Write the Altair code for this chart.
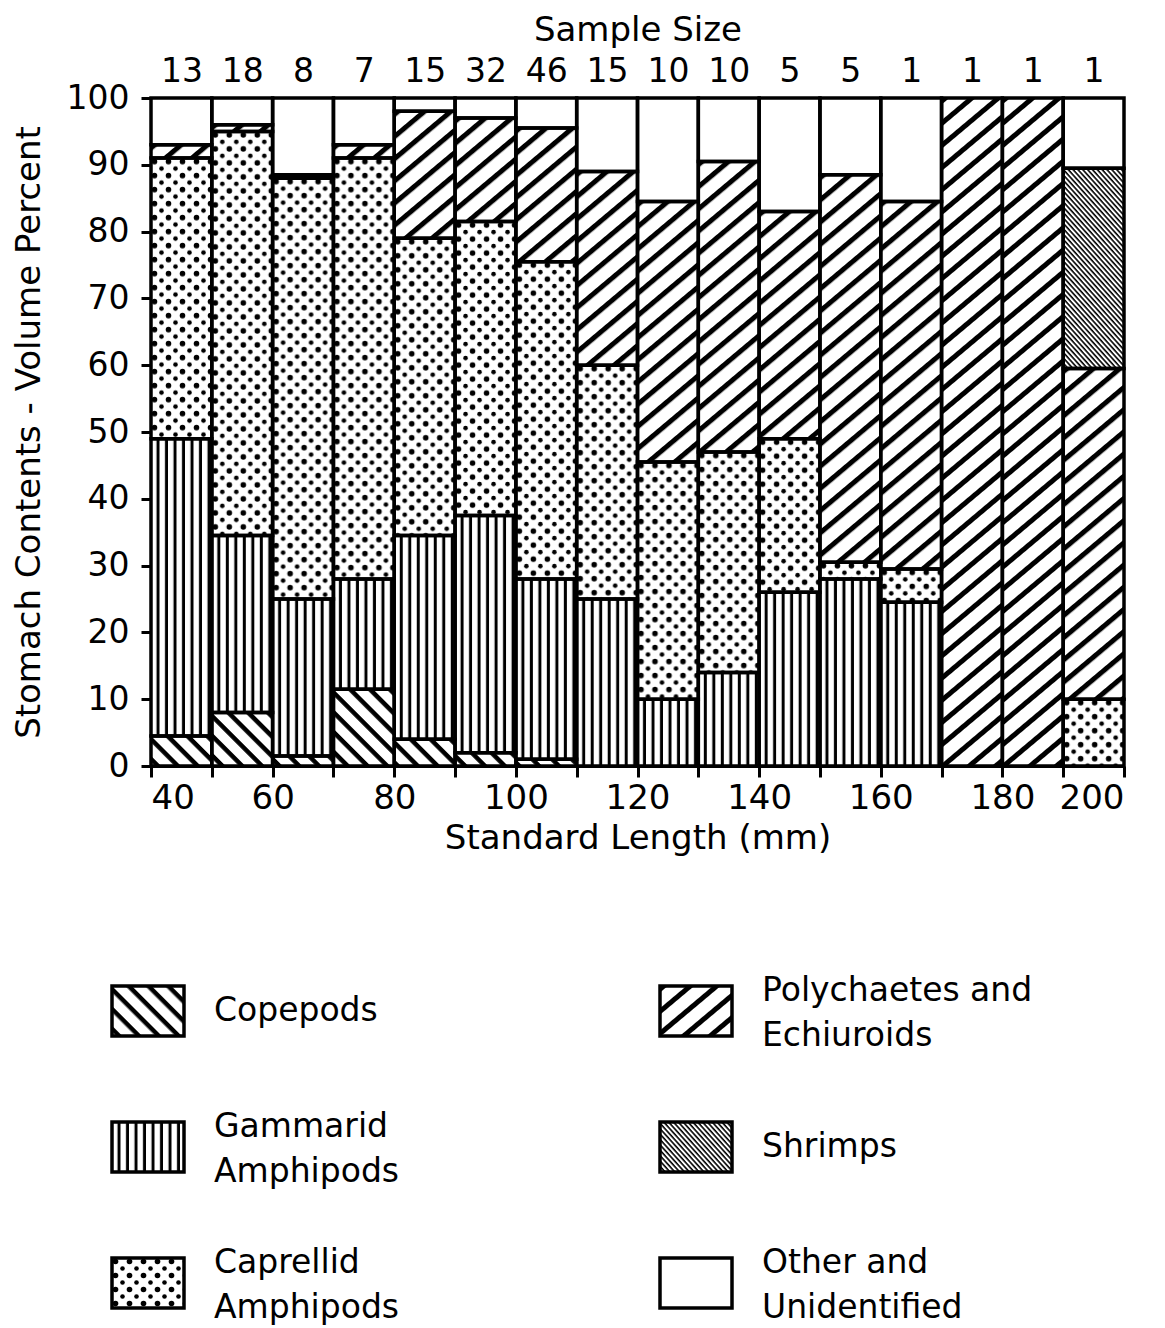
import base64

import altair as alt
import pandas as pd

# Standard-length size classes (mm) and number of stomachs examined in each
length_lower = [40, 50, 60, 70, 80, 90, 100, 110, 120, 130, 140, 150, 160, 170, 180, 190]
length_upper = [50, 60, 70, 80, 90, 100, 110, 120, 130, 140, 150, 160, 170, 180, 190, 200]
sample_size = [13, 18, 8, 7, 15, 32, 46, 15, 10, 10, 5, 5, 1, 1, 1, 1]

# Stomach contents, volume percent per prey group (stacked bottom to top)
copepods = [4.5, 8.0, 1.5, 11.5, 4.0, 2.0, 1.0, 0, 0, 0, 0, 0, 0, 0, 0, 0]
gammarid = [44.5, 26.5, 23.5, 16.5, 30.5, 35.5, 27.0, 25.0, 10.0, 14.0, 26.0, 28.0, 24.5, 0, 0, 0]
caprellid = [42.0, 60.5, 63.0, 63.0, 44.5, 44.0, 47.5, 35.0, 35.5, 33.0, 23.0, 2.5, 5.0, 0, 0, 10.0]
polychaetes = [2.0, 1.0, 0.5, 2.0, 19.0, 15.5, 20.0, 29.0, 39.0, 43.5, 34.0, 58.0, 55.0, 100, 100, 49.5]
shrimps = [0, 0, 0, 0, 0, 0, 0, 0, 0, 0, 0, 0, 0, 0, 0, 30.0]
other = [7.0, 4.0, 11.5, 7.0, 2.0, 3.0, 4.5, 11.0, 15.5, 9.5, 17.0, 11.5, 15.5, 0, 0, 10.5]

prey_groups = [
    "Copepods",
    "Gammarid Amphipods",
    "Caprellid Amphipods",
    "Polychaetes and Echiuroids",
    "Shrimps",
    "Other and Unidentified",
]
legend_labels = [
    "Copepods",
    "Gammarid\nAmphipods",
    "Caprellid\nAmphipods",
    "Polychaetes and\nEchiuroids",
    "Shrimps",
    "Other and\nUnidentified",
]
legend_col = [0, 0, 0, 1, 1, 1]
legend_row = [0, 1, 2, 0, 1, 2]

FONT = "DejaVu Sans"


# ---- hatch fills: small SVG tiles used as image marks -------------------
def stripes(period, thickness, angle):
    return (
        f'<pattern id="p" patternUnits="userSpaceOnUse" width="10" height="{period}" '
        f'patternTransform="rotate({angle})">'
        f'<rect width="10" height="{thickness}" fill="#000"/></pattern>'
    )


def dots():
    return (
        '<pattern id="p" patternUnits="userSpaceOnUse" width="14" height="14">'
        '<circle cx="3.5" cy="3.5" r="2.8" fill="#000"/>'
        '<circle cx="10.5" cy="10.5" r="2.3" fill="#000"/></pattern>'
    )


def tile_uri(pattern):
    body = '<rect width="100%" height="100%" fill="#fff"/>'
    if pattern:
        body += '<rect width="100%" height="100%" fill="url(#p)"/>'
    svg = (
        '<svg xmlns="http://www.w3.org/2000/svg" width="100%" height="100%">'
        f"<defs>{pattern}</defs>{body}</svg>"
    )
    return "data:image/svg+xml;base64," + base64.b64encode(svg.encode()).decode()


fills = pd.DataFrame(
    {
        "group": prey_groups,
        "pattern": [
            tile_uri(stripes(14, 4.5, 45)),
            tile_uri(stripes(8.5, 3, 90)),
            tile_uri(dots()),
            tile_uri(stripes(17, 5, -40)),
            tile_uri(stripes(3.6, 1.6, 48)),
            tile_uri(""),
        ],
    }
)

# ---- long table for the stacked columns --------------------------------
series = [copepods, gammarid, caprellid, polychaetes, shrimps, other]
records = []
for order, (group, values) in enumerate(zip(prey_groups, series)):
    for lo, hi, v in zip(length_lower, length_upper, values):
        records.append({"group": group, "order": order, "lower": lo, "upper": hi, "percent": v})
stomach = pd.DataFrame(records)

x_scale = alt.Scale(domain=[length_lower[0], length_upper[-1]], nice=False, zero=False)
y_scale = alt.Scale(domain=[0, 100], nice=False)

centers = [(lo + hi) / 2 for lo, hi in zip(length_lower, length_upper)]
size_labels = "[" + ",".join(f"'{n}'" for n in sample_size) + "]"
top_label_expr = f"{size_labels}[round((datum.value - {centers[0]}) / {length_upper[0] - length_lower[0]})]"

x_bottom = alt.X(
    "lower:Q",
    scale=x_scale,
    axis=alt.Axis(
        values=list(range(40, 201, 10)),
        labelExpr="datum.value % 20 == 0 ? datum.label : ''",
        labelOverlap=False,
        grid=False,
        tickSize=11,
        tickWidth=3,
        domainWidth=3,
        labelFontSize=34,
        labelPadding=4,
        title="Standard Length (mm)",
        titleFontSize=34,
        titleFontWeight="normal",
        titlePadding=6,
    ),
)
x_top = alt.X(
    "lower:Q",
    scale=x_scale,
    axis=alt.Axis(
        orient="top",
        values=centers,
        labelExpr=top_label_expr,
        labelOverlap=False,
        grid=False,
        ticks=False,
        domain=False,
        labelFontSize=33,
        labelPadding=10,
        title="Sample Size",
        titleFontSize=34,
        titleFontWeight="normal",
        titlePadding=8,
    ),
)
y_axis = alt.Axis(
    values=list(range(0, 101, 10)),
    grid=False,
    tickSize=10,
    tickWidth=3,
    domainWidth=3,
    labelFontSize=33,
    labelPadding=12,
    title="Stomach Contents - Volume Percent",
    titleFontSize=34,
    titleFontWeight="normal",
    titlePadding=20,
)
y_enc = alt.Y("bottom:Q", scale=y_scale, axis=y_axis)

base = (
    alt.Chart(stomach)
    .transform_lookup(lookup="group", from_=alt.LookupData(fills, "group", ["pattern"]))
    .transform_stack(
        stack="percent",
        groupby=["lower"],
        as_=["bottom", "top"],
        sort=[alt.SortField("order", order="ascending")],
    )
    .transform_filter("datum.percent > 0")
)

hatch = base.mark_image(aspect=False).encode(
    x=x_bottom, x2="upper:Q", y=y_enc, y2="top:Q", url="pattern:N"
)
outline = base.mark_rect(fillOpacity=0, stroke="black", strokeWidth=3.5).encode(
    x=x_top, x2="upper:Q", y=y_enc, y2="top:Q"
)

main = alt.layer(hatch, outline).resolve_axis(x="independent").properties(width=973, height=668)

# ---- key below the chart -----------------------------------------------
key_df = pd.DataFrame({"group": prey_groups, "label": legend_labels, "col": legend_col, "row": legend_row})
key_df["first_line"] = key_df["label"].str.split("\n").str[0]
key_df["second_line"] = key_df["label"].str.split("\n").str[1].fillna("")

key_base = alt.Chart(key_df).transform_lookup(
    lookup="group", from_=alt.LookupData(fills, "group", ["pattern"])
)
kx = alt.X("col:Q", scale=alt.Scale(domain=[0, 1], range=[-3, 545]), axis=None)
ky = alt.Y("row:Q", scale=alt.Scale(domain=[0, 2], range=[136, 408]), axis=None)

key_tiles = key_base.mark_image(aspect=False, width=72, height=50).encode(x=kx, y=ky, url="pattern:N")
key_boxes = key_base.mark_rect(
    width=72, height=50, fillOpacity=0, stroke="black", strokeWidth=3.5
).encode(x=kx, y=ky)

text_style = dict(align="left", dx=66, fontSize=33, color="black")
one_line = (
    key_base.transform_filter("datum.second_line == ''")
    .mark_text(baseline="middle", **text_style)
    .encode(x=kx, y=ky, text="first_line:N")
)
upper_line = (
    key_base.transform_filter("datum.second_line != ''")
    .mark_text(baseline="alphabetic", dy=-10, **text_style)
    .encode(x=kx, y=ky, text="first_line:N")
)
lower_line = (
    key_base.transform_filter("datum.second_line != ''")
    .mark_text(baseline="alphabetic", dy=35, **text_style)
    .encode(x=kx, y=ky, text="second_line:N")
)

key = alt.layer(key_tiles, key_boxes, one_line, upper_line, lower_line).properties(width=973, height=440)

chart = (
    alt.vconcat(main, key, spacing=20)
    .properties(padding={"left": 12, "top": 13, "right": 5, "bottom": 5})
    .configure(font=FONT)
    .configure_view(stroke=None)
    .configure_axis(labelColor="black", titleColor="black", domainColor="black", tickColor="black")
)

chart.save("out.html", embed_options={"renderer": "svg", "actions": False})
